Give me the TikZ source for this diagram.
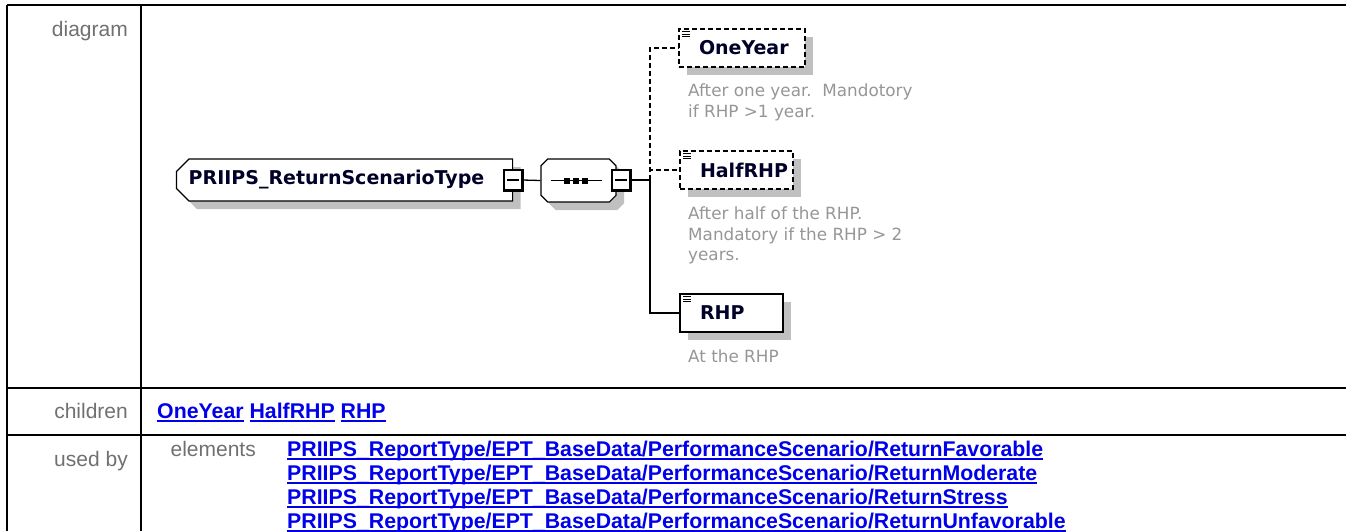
\documentclass[tikz,border=0pt]{standalone}
\usepackage{fontspec}
\setmainfont{Liberation Sans}
\newfontfamily\xsdfont{DejaVu Sans}
\usetikzlibrary{shapes.misc,shadows,positioning}
\definecolor{labelgray}{RGB}{112,112,112}
\definecolor{docgray}{RGB}{150,150,150}
\definecolor{linkblue}{RGB}{0,0,235}
\definecolor{namenavy}{RGB}{0,0,40}
\definecolor{shadowgray}{RGB}{192,192,192}
\newcommand\xlink[1]{\setbox0\hbox{\bfseries #1}\rlap{\vrule height -2pt depth 4pt width \wd0}\box0\relax}
\begin{document}
\begin{tikzpicture}[x=1pt,y=-1pt,
	rowlabel/.style={anchor=base east, inner sep=0pt, text=labelgray, font=\fontsize{21}{24}\selectfont},
	linktext/.style={anchor=base west, inner sep=0pt, text=linkblue, font=\fontsize{21.3}{24}\selectfont},
	shade/.style={drop shadow={shadow xshift=8pt, shadow yshift=-8pt, fill=shadowgray, opacity=1}},
	ctype/.style={chamfered rectangle, chamfered rectangle corners={north west,south west}, chamfered rectangle xsep=9pt, draw, line width=1.2pt, fill=white, shade, text=namenavy, font=\xsdfont\bfseries\fontsize{19}{22}\selectfont},
	seqbox/.style={chamfered rectangle, chamfered rectangle xsep=10pt, draw, line width=1.2pt, fill=white, shade},
	minus/.style={rectangle, draw, line width=1.2pt, fill=white, minimum width=18pt, minimum height=20pt, inner sep=0pt},
	seqdot/.style={rectangle, fill, minimum size=6pt, inner sep=0pt},
	elem/.style={rectangle, draw, line width=1.2pt, fill=white, shade, minimum height=38pt, inner xsep=20pt, align=left, text=namenavy, font=\xsdfont\bfseries\fontsize{19}{22}\selectfont},
	opt/.style={dash pattern=on 5pt off 3pt},
	conn/.style={line width=1.3pt},
	doc/.style={anchor=north west, inner sep=0pt, align=left, text=docgray, font=\xsdfont\fontsize{16.8}{20.5}\selectfont}
]
\useasboundingbox (0,0) rectangle (1346,531);

\draw[line width=2.5pt] (7,5) -- (1346,5);
\draw[line width=2.5pt] (7,388) -- (1346,388);
\draw[line width=2.5pt] (7,435) -- (1346,435);
\draw[line width=2.5pt] (7,5) -- (7,531);
\draw[line width=2.5pt] (141,5) -- (141,531);

\node at (128,36) (lblDiagram) [rowlabel] {diagram};
\node at (128,418) (lblChildren) [rowlabel] {children};
\node at (157,418) (kids) [linktext] {\xlink{OneYear} \xlink{HalfRHP} \xlink{RHP}};
\node at (128,466) (lblUsedBy) [rowlabel] {used by};
\node at (256,456) (lblElements) [rowlabel] {elements};
\foreach \r [count=\i from 0] in {Favorable,Moderate,Stress,Unfavorable}
	\node at (287,456+24*\i) (use\r) [linktext] {\xlink{PRIIPS\_ReportType/EPT\_BaseData/PerformanceScenario/Return\r}};

\node at (344.5,180) (rsType) [ctype, minimum width=335pt, minimum height=42pt] {PRIIPS\_ReturnScenarioType\hspace*{16pt}};
\node at (578.5,180.5) (seq) [seqbox, minimum width=75pt, minimum height=43pt] {};
\node at (513,180) (mA) [minus] {};
\node at (621,180) (mB) [minus] {};
\coordinate (bus) at (650,180);

\node at (742,48) (oneYear) [elem, opt, text width=86pt] {OneYear};
\node at (736.5,170) (halfRHP) [elem, opt, text width=73pt] {HalfRHP};
\node at (731.5,313) (rhp) [elem, text width=63pt] {RHP};

\draw[conn] (mA.east) -- (seq.west);
\draw[conn] (mB.east) -- (bus);
\draw[conn, opt] (bus) |- (oneYear.west);
\draw[conn, opt] (bus) |- (halfRHP.west);
\draw[conn] (bus) |- (rhp.west);

\draw[conn] ([xshift=-28pt]seq.center) -- ([xshift=23pt]seq.center);
\foreach \dx in {-11.5,-2.5,6.5}
	\node at ([xshift=\dx pt]seq.center) [seqdot] {};
\foreach \b in {mA,mB} {
	\draw[conn] ([xshift=4pt]\b.west) -- ([xshift=-4pt]\b.east);
	\draw[line width=2.5pt] (\b.north east) -- (\b.south east) -- (\b.south west);
}
\foreach \el in {oneYear,halfRHP,rhp}
	\foreach \k in {0,2.5,5}
		\draw[line width=0.9pt] ([xshift=4pt,yshift=-3.5pt-\k pt]\el.north west) -- ++(8,0);

\node at (688,84) (oneDoc) [doc] {After one year.\ \ Mandotory\\if RHP >1 year.};
\node at (688,207) (halfDoc) [doc] {After half of the RHP.\\Mandatory if the RHP > 2\\years.};
\node at (688,350) (rhpDoc) [doc] {At the RHP};

\end{tikzpicture}
\end{document}
